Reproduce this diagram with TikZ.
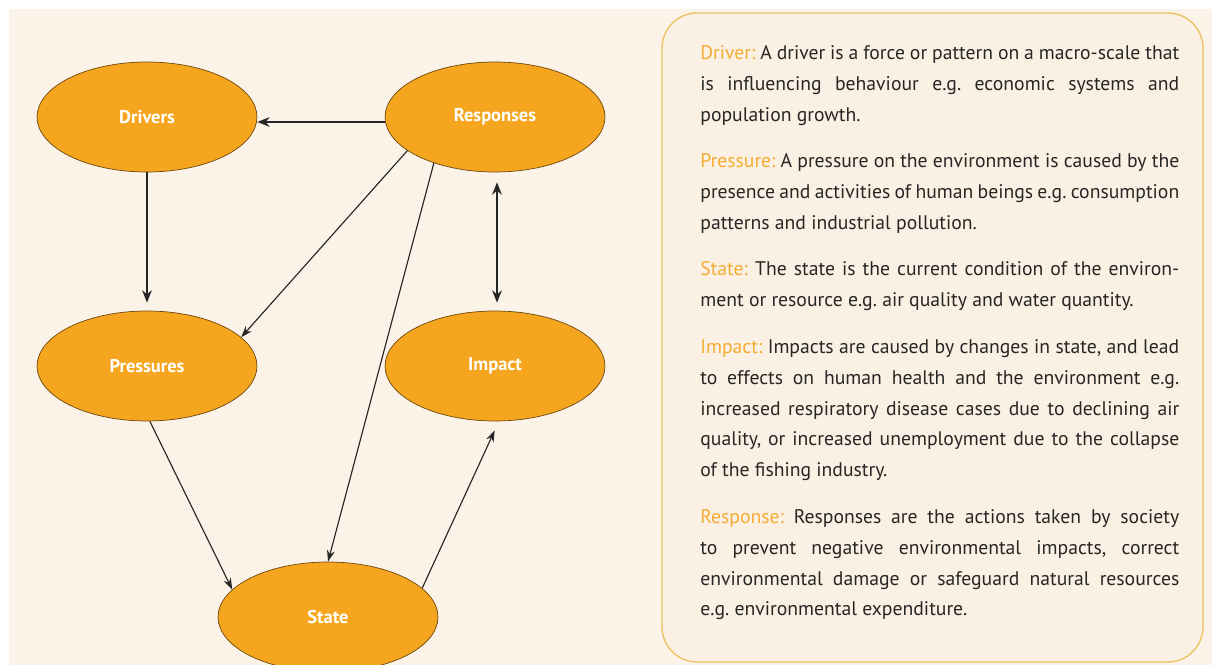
\documentclass[tikz,border=0pt]{standalone}
\usepackage{fontspec}
\setmainfont{PT Sans}
\usetikzlibrary{shapes.geometric,arrows.meta}

\newcommand{\deflabel}[1]{\textcolor{lblcol}{#1:}}

\begin{document}
\frenchspacing
\begin{tikzpicture}[x=0.02cm, y=-0.02cm]
  % Colors
  \definecolor{bgcol}{RGB}{251,243,231}
  \definecolor{boxcol}{RGB}{250,241,228}
  \definecolor{framecol}{RGB}{236,196,102}
  \definecolor{stagecol}{RGB}{246,166,30}
  \definecolor{rimcol}{RGB}{110,72,14}
  \definecolor{lblcol}{RGB}{246,172,52}
  \definecolor{txtcol}{RGB}{40,38,36}
  %
  \tikzset{
    stage/.style={ellipse, draw=rimcol, thin, fill=stagecol, minimum width=4.4cm,
                  minimum height=2.2cm, inner sep=0pt, text=white,
                  font=\fontsize{10.5}{12}\selectfont\bfseries},
    bigarr/.style={-{Stealth[length=7pt, width=5.5pt]}, line width=1.1pt, black!85},
    thinarr/.style={-{Stealth[length=6.5pt, width=4.5pt]}, line width=0.65pt, black!85},
    legend/.style={text width=9.58cm, align=justify, inner sep=0pt, text=txtcol,
                   font=\fontsize{11.2}{17.55}\selectfont},
  }
  %
  \useasboundingbox (0,0) rectangle (1212,665);
  %
  % === BACKGROUND ===
  \fill[white] (0,0) rectangle (1212,665);
  \fill[bgcol] (9,9) rectangle (1212,665);
  %
  % === STAGES ===
  \node[stage] (drv) at (147,117) {Drivers};
  \node[stage] (rsp) at (495,117) {Responses};
  \node[stage] (prs) at (147,366) {Pressures};
  \node[stage] (imp) at (495,366) {Impact};
  \node[stage] (st)  at (328,617) {State};
  %
  % === MAIN ARROWS (thick) ===
  \draw[bigarr] ([yshift=-0.1cm]rsp.west) -- ([yshift=-0.1cm]drv.east);
  \draw[bigarr, shorten >=0.16cm] (drv) -- (prs);
  \draw[bigarr, {Stealth[length=7pt, width=5.5pt]}-{Stealth[length=7pt, width=5.5pt]},
        shorten <=0.2cm, shorten >=0.16cm] ([xshift=0.04cm]rsp.south) -- ([xshift=0.04cm]imp.north);
  %
  % === FEEDBACK ARROWS (thin) ===
  \draw[thinarr] (rsp.201) -- (prs.17);
  \draw[thinarr] (rsp.217) -- (st.north);
  \draw[thinarr] (prs.273) -- (st.164);
  \draw[thinarr, shorten >=0.2cm] (st.17) -- (imp.274);
  %
  % === DEFINITIONS BOX ===
  \draw[framecol, line width=0.8pt, fill=boxcol, rounded corners=20] (662,13) rectangle (1203,662);
  \node[legend, anchor=north west] (defs) at (700,45) {%
    \deflabel{Driver} A driver is a force or pattern on a macro-scale that\linebreak
    is influencing behaviour e.g. economic systems and\linebreak
    population growth.\par\vspace{9pt}
    \deflabel{Pressure} A pressure on the environment is caused by the\linebreak
    presence and activities of human beings e.g. consumption\linebreak
    patterns and industrial pollution.\par\vspace{9pt}
    \deflabel{State} The state is the current condition of the environ-\linebreak
    ment or resource e.g. air quality and water quantity.\par\vspace{9pt}
    \deflabel{Impact} Impacts are caused by changes in state, and lead\linebreak
    to effects on human health and the environment e.g.\linebreak
    increased respiratory disease cases due to declining air\linebreak
    quality, or increased unemployment due to the collapse\linebreak
    of the fishing industry.\par\vspace{9pt}
    \deflabel{Response} Responses are the actions taken by society\linebreak
    to prevent negative environmental impacts, correct\linebreak
    environmental damage or safeguard natural resources\linebreak
    e.g. environmental expenditure.};
  %
\end{tikzpicture}
\end{document}
